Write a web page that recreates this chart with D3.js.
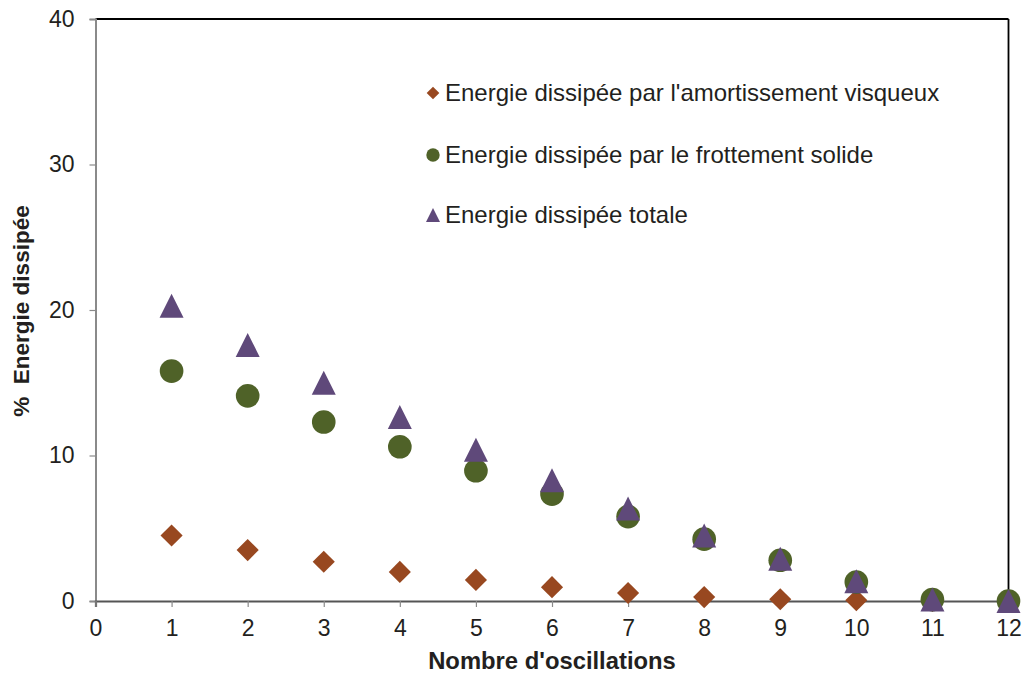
<!DOCTYPE html>
<html>
<head>
<meta charset="utf-8">
<script src="https://cdn.jsdelivr.net/npm/d3@7/dist/d3.min.js"></script>
<style>
  html, body { margin: 0; padding: 0; background: #fff; }
  svg { display: block; font-family: "Liberation Sans", Arial, sans-serif; }
</style>
</head>
<body>
<svg id="chart" width="1024" height="675"></svg>
<script>
const oscillations = [1, 2, 3, 4, 5, 6, 7, 8, 9, 10, 11, 12];
const viscous = [4.5, 3.5, 2.7, 2.0, 1.45, 0.95, 0.55, 0.27, 0.12, 0.05, 0.01, 0.0];
const solid   = [15.8, 14.1, 12.3, 10.6, 8.95, 7.35, 5.8, 4.25, 2.8, 1.3, 0.1, 0.0];
const total   = [20.3, 17.6, 15.0, 12.65, 10.4, 8.3, 6.35, 4.5, 2.9, 1.35, 0.1, 0.0];
const xTicks = [0, 1, 2, 3, 4, 5, 6, 7, 8, 9, 10, 11, 12];
const yTicks = [0, 10, 20, 30, 40];
const seriesNames = [
  "Energie dissipée par l'amortissement visqueux",
  "Energie dissipée par le frottement solide",
  "Energie dissipée totale"
];
const xTitle = "Nombre d'oscillations";
const yTitle = "%  Energie dissipée";

const colors = ["#984820", "#4F6228", "#5F497A"];
// triangle centred on its bounding box (width = height = sqrt(size))
const boxTriangle = {
  draw(context, size) {
    const s = Math.sqrt(size), h = s / 2;
    context.moveTo(0, -h);
    context.lineTo(h, h);
    context.lineTo(-h, h);
    context.closePath();
  }
};
const shapes = [d3.symbolSquare, d3.symbolCircle, boxTriangle];
const rotations = [45, 0, 0];

const svg = d3.select("#chart");
const L = 95.5, R = 1008.5, T = 19, B = 601;
const x = d3.scaleLinear().domain([0, 12]).range([L, R]);
const y = d3.scaleLinear().domain([0, 40]).range([B, T]);
const FONT = "Liberation Sans, Arial, sans-serif";

// frame: top and right
svg.append("line").attr("x1", L).attr("x2", R).attr("y1", T).attr("y2", T)
  .attr("stroke", "#000").attr("stroke-width", 1.8);
svg.append("line").attr("x1", R).attr("x2", R).attr("y1", T).attr("y2", B)
  .attr("stroke", "#000").attr("stroke-width", 1.8);

// y axis
const yAxis = d3.axisLeft(y).tickValues(yTicks).tickSize(6).tickPadding(15).tickFormat(d3.format("d"));
const gy = svg.append("g").attr("transform", `translate(${L},0)`).call(yAxis);
gy.select(".domain").attr("stroke", "#8a8a8a").attr("stroke-width", 2);
gy.selectAll(".tick line").attr("stroke", "#8a8a8a").attr("stroke-width", 1.2);
gy.selectAll(".tick text").attr("font-size", 23).attr("fill", "#231f20").attr("font-family", FONT);

// x axis
const xAxis = d3.axisBottom(x).tickValues(xTicks).tickSize(6).tickPadding(13).tickFormat(d3.format("d"));
const gx = svg.append("g").attr("transform", `translate(0,${B})`).call(xAxis);
gx.select(".domain").attr("stroke", "#555").attr("stroke-width", 2.2);
gx.selectAll(".tick line").attr("stroke", "#8a8a8a").attr("stroke-width", 1.2);
gx.selectAll(".tick text").attr("font-size", 23).attr("fill", "#231f20").attr("font-family", FONT);

// titles
svg.append("text").attr("x", (L + R) / 2).attr("y", 669).attr("text-anchor", "middle")
  .attr("font-size", 23.8).attr("font-weight", "bold").attr("fill", "#231f20").text(xTitle);
svg.append("text").attr("transform", `translate(29,311) rotate(-90)`)
  .attr("text-anchor", "middle").attr("font-size", 22.5).attr("font-weight", "bold")
  .attr("fill", "#231f20").style("white-space", "pre").text(yTitle);

// series
const series = [viscous, solid, total];
const sizes = [245, 440, 576];
series.forEach((vals, i) => {
  const sym = d3.symbol().type(shapes[i]).size(sizes[i]);
  svg.append("g").selectAll("path").data(oscillations).join("path")
    .attr("d", sym)
    .attr("transform", (d, j) => `translate(${x(d)},${y(vals[j])}) rotate(${rotations[i]})`)
    .attr("fill", colors[i]);
});

// legend
const legendY = [93, 155, 215];
const legendSizes = [80, 140, 196];
seriesNames.forEach((name, i) => {
  const sym = d3.symbol().type(shapes[i]).size(legendSizes[i]);
  svg.append("path").attr("d", sym)
    .attr("transform", `translate(433,${legendY[i]}) rotate(${rotations[i]})`).attr("fill", colors[i]);
  svg.append("text").attr("x", 445).attr("y", legendY[i] + 8)
    .attr("font-size", 24).attr("fill", "#231f20").text(name);
});
</script>
</body>
</html>
